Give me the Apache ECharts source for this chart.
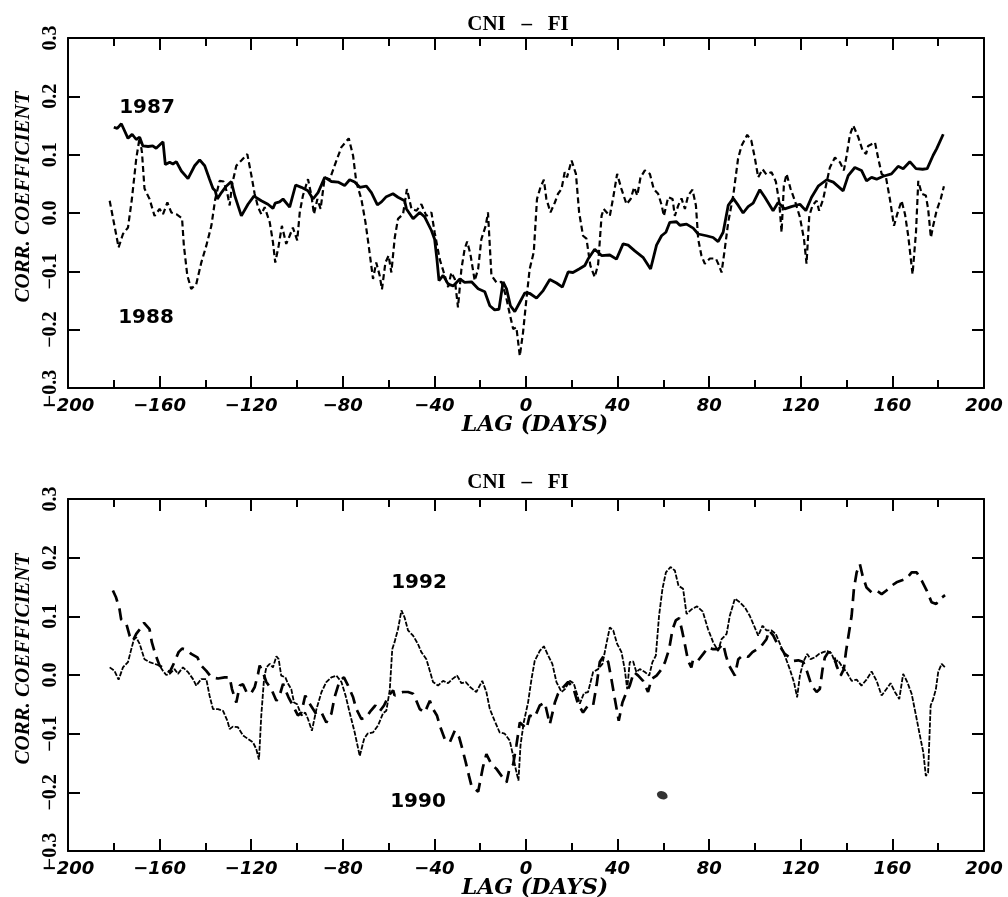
<!DOCTYPE html>
<html><head><meta charset="utf-8">
<script src="https://cdn.jsdelivr.net/npm/echarts@6/dist/echarts.min.js"></script>
<style>html,body{margin:0;padding:0;background:#fff}#c{width:1008px;height:897px}</style>
</head><body><div id="c"></div>
<script>
// ---- text ----
const panelTitle = 'CNI   \u2013   FI';
const xName = 'LAG (DAYS)';
const yName = 'CORR. COEFFICIENT';
const labelsTop = ['1987', '1988'];
const labelsBottom = ['1992', '1990'];
// ---- axes ----
const xMin = -200, xMax = 200, xStep = 40;
const yMin = -0.3, yMax = 0.3, yStep = 0.1;

// ---- top panel: 1987 (solid) ----
const d1987 = [[-180,0.147],[-178.5,0.145],[-176.7,0.153],[-173.8,0.128],[-172,0.135],[-170.2,0.126],[-168.7,0.130],[-167.3,0.115],[-165,0.114],[-163,0.115],[-161.5,0.111],[-158.5,0.122],[-157.5,0.083],[-155.6,0.087],[-154.2,0.084],[-152.7,0.088],[-150.5,0.072],[-147.6,0.059],[-144.7,0.081],[-142.5,0.091],[-140.3,0.081],[-138.2,0.058],[-136.7,0.042],[-135.7,0.038],[-134.8,0.024],[-133,0.035],[-130.9,0.046],[-128.7,0.054],[-127.2,0.030],[-124.3,-0.005],[-121.4,0.015],[-118.8,0.029],[-115.6,0.021],[-112.7,0.015],[-110.5,0.008],[-109.5,0.017],[-107.6,0.019],[-106.1,0.024],[-103.2,0.010],[-100.6,0.048],[-98.1,0.044],[-95.2,0.038],[-93,0.024],[-90.8,0.035],[-87.9,0.061],[-85,0.054],[-82.1,0.053],[-79.2,0.047],[-77,0.057],[-74.8,0.053],[-72.6,0.044],[-69.7,0.046],[-67.5,0.035],[-64.9,0.014],[-63.1,0.019],[-61,0.028],[-58.1,0.033],[-55.9,0.027],[-53,0.021],[-52.2,0.007],[-49.3,-0.010],[-46.4,0.001],[-44.2,-0.007],[-41.3,-0.030],[-39.9,-0.045],[-38.9,-0.079],[-38,-0.116],[-36.2,-0.107],[-34,-0.122],[-31.8,-0.125],[-28.9,-0.113],[-26.8,-0.119],[-23.8,-0.118],[-20.9,-0.130],[-18,-0.135],[-15.8,-0.159],[-13.7,-0.166],[-11.8,-0.165],[-10,-0.118],[-8.5,-0.130],[-6.8,-0.159],[-4.9,-0.169],[-2.7,-0.153],[-0.5,-0.137],[1.7,-0.138],[4.6,-0.146],[7.5,-0.133],[10.4,-0.114],[13.3,-0.120],[15.9,-0.127],[18.4,-0.101],[20.5,-0.102],[23.2,-0.096],[25.7,-0.090],[27.1,-0.079],[30,-0.062],[33,-0.073],[36.6,-0.072],[39.5,-0.079],[42.4,-0.053],[44.6,-0.055],[47.5,-0.065],[51.1,-0.076],[54.4,-0.096],[57,-0.055],[59.2,-0.039],[61.1,-0.033],[62.8,-0.016],[65.7,-0.015],[67.2,-0.021],[70.1,-0.019],[73,-0.026],[75.2,-0.036],[78.8,-0.039],[81.7,-0.042],[83.9,-0.049],[86.1,-0.033],[88.3,0.013],[90.5,0.025],[92.7,0.013],[94.8,0],[97,0.011],[99.2,0.017],[102.1,0.040],[104.3,0.027],[107.9,0.004],[110.1,0.018],[113,0.007],[115.9,0.011],[119.6,0.015],[122.2,0.004],[124.7,0.027],[127.6,0.046],[131.3,0.057],[134.2,0.053],[138.5,0.038],[140.7,0.064],[143.6,0.078],[146.5,0.073],[148.7,0.055],[150.9,0.061],[153.1,0.058],[156,0.063],[159.6,0.067],[162.5,0.080],[164.7,0.076],[167.6,0.088],[170.3,0.076],[173.2,0.075],[175.2,0.076],[177.8,0.099],[179.3,0.110],[182.2,0.135]];

// ---- top panel: 1988 (short dashes) ----
const d1988 = [[-181.8,0.021],[-179.7,-0.022],[-177.9,-0.059],[-176,-0.036],[-173.8,-0.025],[-172.1,0.024],[-170.2,0.093],[-168.7,0.130],[-167.7,0.104],[-166.6,0.042],[-164.4,0.024],[-162.2,-0.005],[-160,0.007],[-158.5,-0.002],[-156.6,0.018],[-154.9,0.001],[-152.7,-0.002],[-150.2,-0.009],[-149.4,-0.056],[-147.9,-0.107],[-146.2,-0.130],[-144,-0.122],[-141.8,-0.085],[-139.6,-0.056],[-137.4,-0.022],[-135.7,0.024],[-133.8,0.055],[-132,0.054],[-130.4,0.033],[-129.4,0.013],[-128.4,0.048],[-126.5,0.081],[-124.3,0.090],[-121.7,0.101],[-119.9,0.064],[-118.5,0.033],[-117,0.010],[-115.6,-0.002],[-114.1,0.010],[-111.9,-0.016],[-110.5,-0.050],[-109.5,-0.085],[-108,-0.056],[-106.6,-0.022],[-104.7,-0.053],[-103.2,-0.039],[-101.8,-0.025],[-99.9,-0.047],[-98.8,0.001],[-97.4,0.030],[-95.2,0.058],[-93.7,0.030],[-92.6,-0.002],[-91.1,0.024],[-89.7,0.007],[-87.9,0.061],[-85.7,0.058],[-83.6,0.081],[-80.6,0.113],[-77.4,0.128],[-75.5,0.098],[-74.1,0.053],[-71.9,0.024],[-70.1,-0.016],[-68.7,-0.056],[-66.8,-0.113],[-65.4,-0.085],[-63.9,-0.107],[-62.9,-0.131],[-61.4,-0.085],[-60,-0.073],[-58.8,-0.102],[-57.3,-0.042],[-55.9,-0.010],[-53.7,-0.002],[-52,0.041],[-50,0.007],[-47.8,0.004],[-45.7,0.015],[-43.5,-0.005],[-41.3,0.001],[-39.9,-0.033],[-37.7,-0.079],[-35.9,-0.102],[-34,-0.127],[-32.6,-0.102],[-31.1,-0.113],[-29.7,-0.162],[-28.2,-0.096],[-26.8,-0.062],[-25.7,-0.049],[-24.3,-0.070],[-22.4,-0.116],[-20.9,-0.096],[-19.5,-0.045],[-17.6,-0.022],[-16.6,0.001],[-15.1,-0.107],[-12.9,-0.119],[-10.7,-0.118],[-8.8,-0.142],[-7.1,-0.173],[-5.6,-0.199],[-4.2,-0.196],[-2.7,-0.245],[-1.3,-0.205],[0.2,-0.147],[1.6,-0.096],[3.4,-0.067],[4.8,0.024],[6.3,0.044],[7.8,0.057],[8.9,0.024],[10.7,0.001],[12.6,0.018],[14,0.033],[15.5,0.041],[16.9,0.070],[17.9,0.061],[19.9,0.090],[21.8,0.067],[23.2,0.001],[24.9,-0.039],[26.4,-0.044],[28.1,-0.090],[30,-0.110],[31.5,-0.088],[33,-0.005],[33.9,0.007],[36.6,-0.005],[38.1,0.027],[39.8,0.067],[41.7,0.041],[43.9,0.015],[45.7,0.024],[47.2,0.044],[48.6,0.030],[50,0.061],[51.9,0.073],[54.1,0.067],[55.8,0.041],[57.7,0.033],[59.2,0.014],[60.2,-0.005],[62.1,0.027],[64,0.024],[65,-0.005],[66.5,0.013],[67.9,0.025],[69.4,0.007],[70.8,0.030],[72.7,0.040],[74.2,0.013],[75.2,-0.045],[76.6,-0.073],[78.1,-0.087],[80.3,-0.078],[82.9,-0.078],[84.3,-0.090],[85.4,-0.102],[86.8,-0.062],[88.3,-0.016],[90.5,0.030],[92.6,0.093],[94.1,0.115],[96.6,0.134],[98.4,0.124],[99.9,0.095],[101.4,0.061],[103.3,0.075],[105,0.066],[107.2,0.070],[109.1,0.054],[110.6,0.018],[111.6,-0.033],[112.6,0.047],[113.8,0.067],[115.5,0.042],[117.4,0.021],[119.6,-0.007],[121.4,-0.045],[122.5,-0.087],[123.7,-0.005],[125.1,0.013],[126.9,0.021],[128,0.004],[129.8,0.024],[131.3,0.053],[132.7,0.078],[134.9,0.095],[137.1,0.087],[138.8,0.073],[140,0.098],[141.4,0.133],[142.9,0.150],[145.1,0.130],[147,0.107],[148.5,0.101],[149.4,0.115],[150.9,0.118],[152.4,0.121],[153.8,0.094],[155.3,0.067],[157.2,0.061],[158.9,0.024],[160.7,-0.022],[162.1,-0.002],[164,0.021],[165.5,-0.002],[166.9,-0.039],[168.8,-0.105],[170.3,-0.033],[171.3,0.055],[172.8,0.033],[174.6,0.030],[175.6,0.007],[176.8,-0.042],[177.8,-0.022],[179.3,0.004],[181.1,0.024],[182.5,0.046]];

// ---- bottom panel: 1992 (fine broken line) ----
const d1992 = [[-181.8,0.013],[-179.7,0.007],[-177.9,-0.008],[-176,0.013],[-173.8,0.022],[-172.7,0.039],[-171.2,0.061],[-170.2,0.064],[-168.7,0.053],[-166.6,0.027],[-164.4,0.022],[-162.2,0.019],[-160,0.016],[-158.5,0.007],[-157.1,0],[-155.6,0.002],[-153.5,0.010],[-152,0.002],[-149.8,0.013],[-147.6,0.005],[-145.4,-0.007],[-144,-0.018],[-141.8,-0.007],[-139.6,-0.007],[-138.2,-0.035],[-136.7,-0.058],[-134.5,-0.058],[-132.3,-0.061],[-130.4,-0.078],[-129.4,-0.092],[-128,-0.088],[-125.8,-0.089],[-123.6,-0.103],[-121.4,-0.109],[-119.2,-0.115],[-117.8,-0.126],[-116.6,-0.144],[-115.6,-0.069],[-114.4,-0.007],[-113.4,0.013],[-111.9,0.019],[-110.5,0.013],[-109,0.032],[-108,0.027],[-106.9,-0.001],[-105.1,-0.004],[-103.9,-0.015],[-102.5,-0.024],[-101.3,-0.047],[-99.9,-0.050],[-98.1,-0.069],[-96.4,-0.064],[-95.2,-0.075],[-93.5,-0.095],[-91.5,-0.058],[-89.3,-0.029],[-87.2,-0.012],[-85,-0.004],[-82.8,-0.001],[-80.6,-0.012],[-78.8,-0.035],[-77,-0.064],[-74.8,-0.098],[-72.6,-0.138],[-70.7,-0.109],[-69.2,-0.100],[-66.8,-0.098],[-64.6,-0.086],[-62.4,-0.065],[-61,-0.061],[-59.5,-0.026],[-58.4,0.044],[-57.4,0.056],[-55.9,0.078],[-54.4,0.110],[-53,0.098],[-51.5,0.076],[-49.3,0.067],[-47.2,0.053],[-45.7,0.039],[-43.5,0.027],[-42,0.007],[-40.6,-0.012],[-38.4,-0.018],[-36.2,-0.010],[-34,-0.014],[-32.2,-0.007],[-30.1,-0.001],[-28.2,-0.014],[-26.3,-0.012],[-24.3,-0.021],[-21.7,-0.029],[-19.1,-0.010],[-17.3,-0.029],[-15.8,-0.058],[-13.7,-0.078],[-11.5,-0.098],[-9.3,-0.100],[-7.1,-0.112],[-5.6,-0.138],[-4.5,-0.160],[-3.3,-0.180],[-2.4,-0.120],[-1,-0.081],[0.9,-0.047],[2.4,-0.007],[3.8,0.024],[6,0.041],[7.8,0.049],[9.7,0.033],[11.5,0.019],[13.3,-0.012],[15.5,-0.029],[17,-0.024],[19.1,-0.010],[20.8,-0.014],[22,-0.029],[23.5,-0.049],[25.3,-0.031],[27.1,-0.029],[29.3,0.005],[31.5,0.010],[33.4,0.019],[35.1,0.053],[36.6,0.081],[38.1,0.076],[39.8,0.053],[41.7,0.039],[43.1,0.010],[44.2,-0.024],[45.3,0.022],[46.8,0.023],[48.2,0.005],[49.7,0.010],[51.9,0.005],[53.8,-0.001],[55.2,0.022],[56.7,0.033],[58.1,0.101],[59.6,0.147],[61.1,0.175],[63.1,0.184],[65,0.178],[66.6,0.152],[68.6,0.147],[70.1,0.104],[72.3,0.112],[74.7,0.117],[77.2,0.108],[79.5,0.078],[81.7,0.056],[83.9,0.041],[85.4,0.061],[87.6,0.070],[89,0.101],[91.2,0.130],[93.4,0.124],[95.6,0.115],[97.7,0.101],[99.9,0.081],[101.4,0.067],[103.3,0.084],[105,0.076],[107.2,0.076],[109.1,0.070],[110.9,0.053],[113,0.033],[115.2,0.010],[117,-0.012],[118.4,-0.038],[119.6,-0.001],[121.1,0.022],[122.8,0.036],[124.3,0.027],[126.1,0.030],[128,0.036],[129.8,0.039],[131.5,0.041],[133.4,0.037],[134.9,0.022],[136.3,0.025],[138.2,0.013],[140,0.005],[142.2,-0.010],[144.4,-0.008],[146.5,-0.018],[148.7,-0.008],[150.9,0.006],[153.1,-0.010],[155.3,-0.035],[157.4,-0.024],[159.2,-0.014],[161.1,-0.029],[163,-0.041],[164.7,0.002],[166.5,-0.012],[168.4,-0.032],[170.3,-0.069],[172,-0.103],[173.5,-0.132],[174.6,-0.172],[175.6,-0.166],[176.7,-0.052],[177.8,-0.041],[179,-0.024],[180,0.005],[181.5,0.019],[183,0.013]];

// ---- bottom panel: 1990 (long dashes) ----
const d1990 = [[-180.4,0.144],[-179,0.132],[-177.5,0.112],[-176.8,0.095],[-174.5,0.087],[-173.1,0.067],[-171.7,0.058],[-170.2,0.070],[-168,0.081],[-166.8,0.089],[-164.4,0.078],[-163.4,0.056],[-161.9,0.036],[-160,0.016],[-157.8,0.010],[-155.6,0.005],[-153.5,0.022],[-151.7,0.039],[-150.2,0.045],[-148.4,0.043],[-146.2,0.036],[-143.5,0.030],[-141.8,0.016],[-139.6,0.007],[-137.4,-0.004],[-134.5,-0.006],[-131.6,-0.004],[-129.4,-0.004],[-128.4,-0.024],[-126.5,-0.047],[-125,-0.018],[-123.6,-0.016],[-121.7,-0.032],[-119.9,-0.030],[-118.5,-0.021],[-117,0.002],[-116.3,0.016],[-114.9,0.005],[-113.4,-0.012],[-111.2,-0.024],[-109,-0.044],[-107.6,-0.035],[-106.1,-0.015],[-104.7,-0.029],[-103.7,-0.038],[-101.8,-0.052],[-99.6,-0.069],[-98.1,-0.064],[-96.4,-0.035],[-94.5,-0.049],[-93,-0.058],[-91.5,-0.067],[-89.3,-0.064],[-87.2,-0.081],[-85,-0.066],[-83.6,-0.038],[-81.4,-0.010],[-79.5,-0.004],[-77.7,-0.018],[-75.5,-0.038],[-74.1,-0.058],[-71.9,-0.075],[-69.7,-0.072],[-67.8,-0.061],[-65.8,-0.052],[-63.9,-0.062],[-62,-0.052],[-59.9,-0.035],[-58,-0.026],[-57.4,-0.035],[-55.9,-0.032],[-53.7,-0.029],[-51.5,-0.029],[-49.3,-0.032],[-48.2,-0.041],[-46.4,-0.058],[-44.2,-0.064],[-42,-0.044],[-40.6,-0.058],[-38.9,-0.069],[-37.4,-0.089],[-35.5,-0.109],[-33.3,-0.115],[-31.1,-0.095],[-29.2,-0.106],[-27.8,-0.126],[-26.3,-0.149],[-24.9,-0.172],[-23.8,-0.189],[-20.9,-0.199],[-18.8,-0.157],[-17.3,-0.135],[-15.1,-0.152],[-12.9,-0.160],[-10.7,-0.172],[-8.5,-0.183],[-7.1,-0.157],[-5.6,-0.152],[-4.2,-0.120],[-2.7,-0.081],[-1.3,-0.086],[0.2,-0.092],[1.6,-0.069],[3.8,-0.072],[6,-0.052],[8.2,-0.047],[10.4,-0.084],[12.6,-0.047],[14,-0.032],[16.2,-0.021],[18.4,-0.012],[20.6,-0.021],[22.7,-0.049],[24.9,-0.064],[27.1,-0.052],[29.3,-0.052],[30.8,-0.018],[32.2,0.022],[34,0.033],[35.9,0.022],[37.3,-0.007],[38.8,-0.041],[40.5,-0.078],[42.1,-0.047],[43.9,-0.029],[45.3,-0.018],[47.1,0.005],[49,-0.001],[51.1,-0.010],[53.3,-0.029],[54.8,-0.007],[57,-0.001],[59.2,0.010],[60.7,0.022],[62.5,0.044],[64,0.078],[65.4,0.093],[66.9,0.097],[68.3,0.073],[69.5,0.050],[70.8,0.024],[72.2,0.013],[73,0.027],[75.2,0.025],[77.4,0.036],[79.5,0.047],[81.7,0.044],[83.9,0.044],[86.1,0.053],[87.3,0.033],[88.7,0.016],[91.2,-0.001],[92.7,0.027],[94.8,0.034],[97,0.031],[98.9,0.039],[100.9,0.044],[102.9,0.050],[105,0.061],[106.2,0.076],[108,0.067],[109.4,0.056],[111.2,0.047],[113,0.036],[115.2,0.030],[117,0.024],[118.9,0.025],[121.1,0.022],[122.8,0.005],[124.7,-0.018],[126.9,-0.029],[128.3,-0.024],[129.5,0.010],[130.5,0.030],[132,0.039],[134.2,0.037],[135.6,0.016],[137.4,-0.001],[138.8,0.010],[139.7,0.039],[140.7,0.064],[142.2,0.101],[143.2,0.147],[144.4,0.175],[145.8,0.189],[147,0.169],[148.7,0.149],[150.9,0.141],[153.1,0.144],[155.3,0.138],[157.4,0.144],[159.6,0.152],[161.8,0.158],[163.9,0.161],[166.1,0.164],[168.4,0.175],[170.6,0.175],[172.8,0.161],[175,0.144],[177.1,0.124],[179.1,0.121],[180.8,0.130],[183,0.136]];

// ---- ink blot in lower panel ----
const blot = [[59.5, -0.205]];

const chart = echarts.init(document.getElementById('c'), null, {renderer: 'canvas'});

const fmtX = v => (v < 0 ? '\u2212' + Math.abs(v) : String(v));
const fmtY = v => {
  const r = Math.round(v * 10) / 10;
  return (r < 0 ? '\u2212' : '') + Math.abs(r).toFixed(1);
};
const black = '#000';

function xAx(gi, pos) {
  return {
    type: 'value', gridIndex: gi, position: pos, min: xMin, max: xMax, interval: xStep,
    axisLine: {show: true, onZero: false, lineStyle: {color: black, width: 2}},
    axisTick: {show: true, inside: true, length: 12, lineStyle: {color: black, width: 2}},
    minorTick: {show: true, splitNumber: 2, length: 8, lineStyle: {color: black, width: 2}},
    splitLine: {show: false}, minorSplitLine: {show: false},
    axisLabel: {show: pos === 'bottom', margin: 9, color: black, fontFamily: 'DejaVu Sans',
      fontWeight: 'bold', fontStyle: 'italic', fontSize: 18, formatter: fmtX,
      showMinLabel: true, showMaxLabel: true}
  };
}
function yAx(gi, pos) {
  return {
    type: 'value', gridIndex: gi, position: pos, min: yMin, max: yMax, interval: yStep,
    axisLine: {show: true, onZero: false, lineStyle: {color: black, width: 2}},
    axisTick: {show: true, inside: true, length: 12, lineStyle: {color: black, width: 2}},
    splitLine: {show: false},
    axisLabel: {show: pos === 'left', rotate: 90, margin: 7, color: black,
      fontFamily: 'Liberation Serif', fontWeight: 'bold', fontSize: 20, formatter: fmtY,
      showMinLabel: true, showMaxLabel: true}
  };
}

function txt(x, y, text, font, rot) {
  return {type: 'text', x: x, y: y, rotation: rot || 0, silent: true,
    style: {text: text, font: font, fill: black, align: 'center', verticalAlign: 'middle',
      textAlign: 'center', textVerticalAlign: 'middle'}};
}

const lineBase = {type: 'line', showSymbol: false, symbol: 'none', animation: false, smooth: false};

chart.setOption({
  backgroundColor: '#fff',
  animation: false,
  grid: [
    {left: 68, right: 24, top: 38, height: 350},
    {left: 68, right: 24, top: 499, height: 352}
  ],
  xAxis: [xAx(0, 'bottom'), xAx(0, 'top'), xAx(1, 'bottom'), xAx(1, 'top')],
  yAxis: [yAx(0, 'left'), yAx(0, 'right'), yAx(1, 'left'), yAx(1, 'right')],
  series: [
    Object.assign({}, lineBase, {name: '1987', xAxisIndex: 0, yAxisIndex: 0, data: d1987,
      lineStyle: {color: black, width: 2.8}, z: 3}),
    Object.assign({}, lineBase, {name: '1988', xAxisIndex: 0, yAxisIndex: 0, data: d1988,
      lineStyle: {color: black, width: 2.2, type: [6, 3.5]}, z: 2}),
    Object.assign({}, lineBase, {name: '1992', xAxisIndex: 2, yAxisIndex: 2, data: d1992,
      lineStyle: {color: black, width: 1.8, type: [5, 1.5]}, z: 3}),
    Object.assign({}, lineBase, {name: '1990', xAxisIndex: 2, yAxisIndex: 2, data: d1990,
      lineStyle: {color: black, width: 2.7, type: [12, 7]}, z: 2}),
    {type: 'scatter', xAxisIndex: 2, yAxisIndex: 2, data: blot, symbol: 'circle',
      symbolSize: [11, 8], symbolRotate: -20, itemStyle: {color: black}, silent: true}
  ],
  graphic: [
    txt(518, 25, panelTitle, 'bold 21px "Liberation Serif"'),
    txt(518, 483, panelTitle, 'bold 21px "Liberation Serif"'),
    txt(24, 197, yName, 'italic bold 21px "Liberation Serif"', Math.PI / 2),
    txt(24, 659, yName, 'italic bold 21px "Liberation Serif"', Math.PI / 2),
    txt(535, 425, xName, 'italic bold 22px "DejaVu Serif"'),
    txt(535, 888, xName, 'italic bold 22px "DejaVu Serif"'),
    txt(147, 108, labelsTop[0], 'bold 20px "DejaVu Sans"'),
    txt(146, 318, labelsTop[1], 'bold 20px "DejaVu Sans"'),
    txt(419, 583, labelsBottom[0], 'bold 20px "DejaVu Sans"'),
    txt(418, 802, labelsBottom[1], 'bold 20px "DejaVu Sans"')
  ]
});
</script>
</body></html>
